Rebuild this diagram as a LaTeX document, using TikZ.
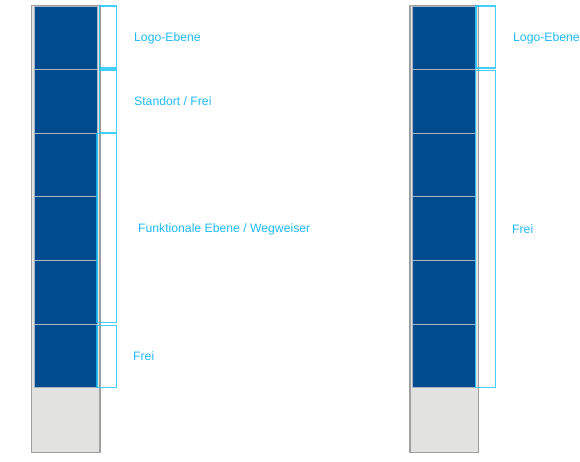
\documentclass[tikz,border=0pt]{standalone}
\usepackage{fontspec}
\setmainfont{Liberation Sans}
\definecolor{pblue}{RGB}{0,75,141}
\definecolor{pgray}{RGB}{226,226,225}
\definecolor{pborder}{RGB}{160,160,160}
\definecolor{psep}{RGB}{170,180,196}
\definecolor{lcyan}{RGB}{30,185,245}
\definecolor{bcyan}{RGB}{20,195,250}
\tikzset{
  pillar/.style={fill=pgray, draw=pborder, line width=1.2pt},
  panel/.style={fill=pblue, draw=psep, line width=0.8pt},
  bracket/.style={draw=bcyan, line width=1.2pt, draw opacity=0.8},
  lbl/.style={anchor=west, inner sep=0pt, text=lcyan, font=\fontsize{12.2}{14}\selectfont}
}
\begin{document}
\begin{tikzpicture}[x=1pt,y=-1pt]
\useasboundingbox (0,0) rectangle (580,462);
% left pillar
\draw[pillar] (31.5,5.5) rectangle (100,452.5);
\foreach \i in {0,...,5}{
  \draw[panel] (34,{6+\i*63.6}) rectangle (97,{6+(\i+1)*63.6});
}
\draw[bracket] (99.5,6) rectangle (116.5,68);
\draw[bracket] (99.5,70) rectangle (116.5,132.5);
\draw[bracket] (97,133.5) rectangle (116.5,322.5);
\draw[bracket] (97,325.5) rectangle (116.5,387.5);
\node[lbl] (l1) at (134,38.5) {Logo-Ebene};
\node[lbl] (l2) at (134,101.5) {Standort / Frei};
\node[lbl] (l3) at (138,229.5) {Funktionale Ebene / Wegweiser};
\node[lbl] (l4) at (133,356.5) {Frei};
% right pillar
\draw[pillar] (410,5.5) rectangle (478.5,452.5);
\foreach \i in {0,...,5}{
  \draw[panel] (412.5,{6+\i*63.6}) rectangle (475.7,{6+(\i+1)*63.6});
}
\draw[bracket] (476,6) rectangle (495.3,68);
\draw[bracket] (475.7,70.5) rectangle (495.3,387.5);
\node[lbl] (r1) at (513,38.5) {Logo-Ebene};
\node[lbl] (r2) at (512,229.5) {Frei};
\end{tikzpicture}
\end{document}
